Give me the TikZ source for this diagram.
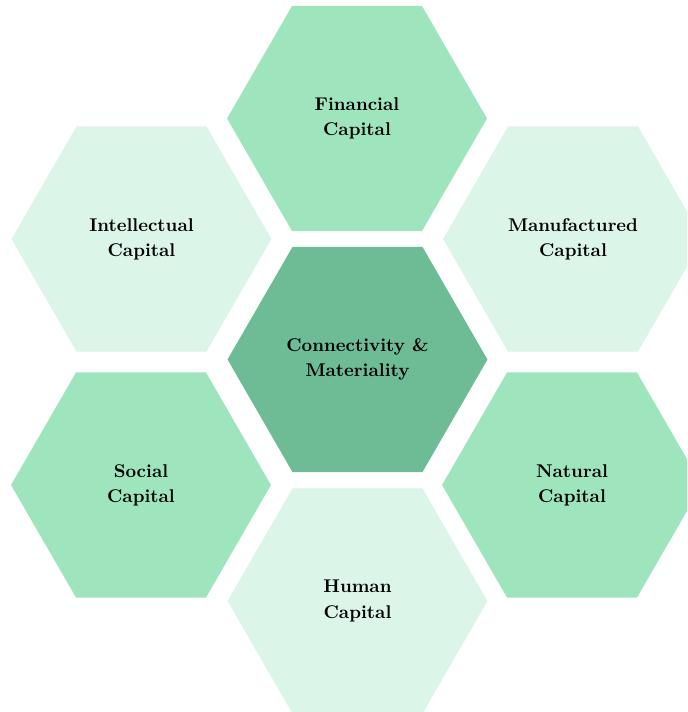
\documentclass[tikz,border=0pt]{standalone}
\usetikzlibrary{shapes.geometric}

\definecolor{hexdark}{RGB}{109,188,150}
\definecolor{hexmid}{RGB}{158,229,190}
\definecolor{hexlight}{RGB}{220,245,233}

\begin{document}
\begin{tikzpicture}[x=0.02cm, y=-0.02cm,
  hexcell/.style={regular polygon, regular polygon sides=6, minimum size=5.2cm,
    inner sep=0pt, align=center, text=black,
    font=\fontsize{10.5}{14.3}\selectfont\bfseries},
  hexdarkcell/.style={hexcell, fill=hexdark},
  hexmidcell/.style={hexcell, fill=hexmid},
  hexlightcell/.style={hexcell, fill=hexlight}]

% Page size (the reference is 687 x 712)
\useasboundingbox (0,0) rectangle (687,712);
\clip (0,0) rectangle (687,712);

% Centre cell
\node[hexdarkcell] (core) at (357.5,359.5) {Connectivity \&\\Materiality};

% Ring of six capitals
\node[hexmidcell] (financial) at (357,118.5) {Financial\\Capital};
\node[hexlightcell] (intellectual) at (141.5,239) {Intellectual\\Capital};
\node[hexlightcell] (manufactured) at (573,239) {Manufactured\\Capital};
\node[hexmidcell] (social) at (141,485) {Social\\Capital};
\node[hexmidcell] (natural) at (572,485) {Natural\\Capital};
\node[hexlightcell] (human) at (357.5,601) {Human\\Capital};

\end{tikzpicture}
\end{document}
